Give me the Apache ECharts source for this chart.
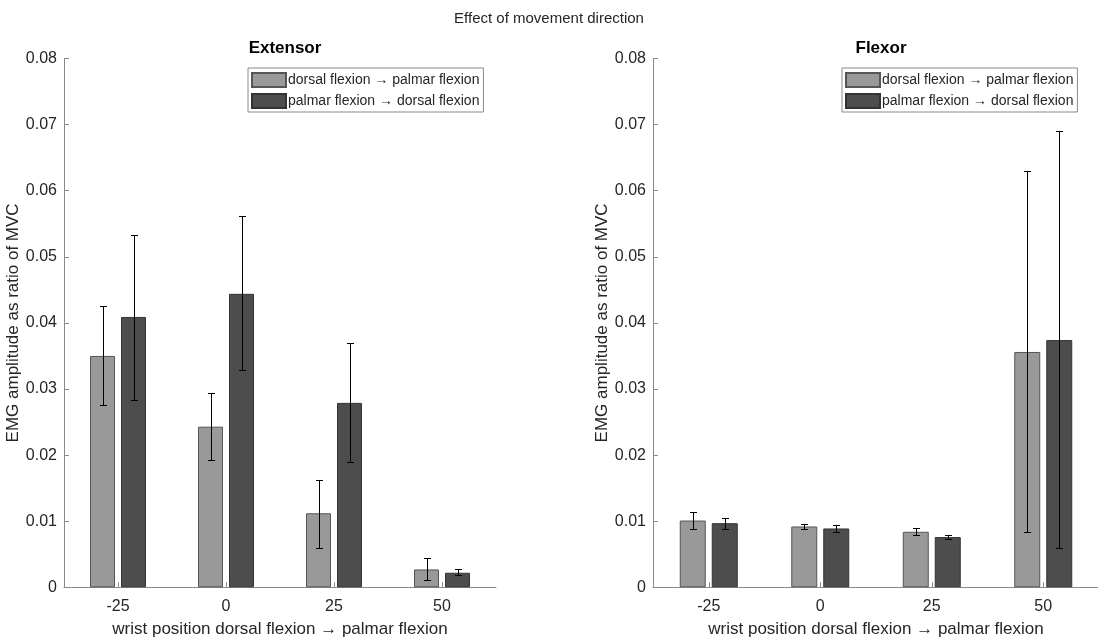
<!DOCTYPE html>
<html>
<head>
<meta charset="utf-8">
<script src="https://cdn.jsdelivr.net/npm/echarts@6/dist/echarts.min.js"></script>
<style>
html,body{margin:0;padding:0;background:#fff;}
#chart{width:1098px;height:639px;}
</style>
</head>
<body>
<div id="chart"></div>
<script>
var categories = ['-25', '0', '25', '50'];
var seriesNames = ['dorsal flexion \u2192 palmar flexion', 'palmar flexion \u2192 dorsal flexion'];

// Extensor
var extDorsal   = [0.0350, 0.0243, 0.0112, 0.0027];
var extDorsalLo = [0.0276, 0.0192, 0.0060, 0.0011];
var extDorsalHi = [0.0425, 0.0294, 0.0163, 0.0044];
var extPalmar   = [0.0409, 0.0444, 0.0279, 0.0022];
var extPalmarLo = [0.0284, 0.0328, 0.0190, 0.0018];
var extPalmarHi = [0.0533, 0.0561, 0.0369, 0.0027];

// Flexor
var flxDorsal   = [0.0101, 0.0092, 0.0084, 0.0356];
var flxDorsalLo = [0.0088, 0.0088, 0.0079, 0.0084];
var flxDorsalHi = [0.0114, 0.0096, 0.0089, 0.0630];
var flxPalmar   = [0.0097, 0.0089, 0.0076, 0.0374];
var flxPalmarLo = [0.0088, 0.0083, 0.0073, 0.0059];
var flxPalmarHi = [0.0105, 0.0095, 0.0079, 0.0690];

var FONT = '"Liberation Sans", Arial, Helvetica, sans-serif';
var TXT = '#262626';
var AX = '#8a8a8a';
var GREY = '#999999';
var DARK = '#4d4d4d';

function errData(lo, hi) {
  return lo.map(function (v, i) { return [i, v, hi[i]]; });
}

function makeErr(offsetPx) {
  return function (params, api) {
    var c = api.value(0);
    var lo = api.coord([c, api.value(1)]);
    var hi = api.coord([c, api.value(2)]);
    var x = Math.round(lo[0] + offsetPx) + 0.5;
    var yl = Math.round(lo[1]) + 0.5, yh = Math.round(hi[1]) + 0.5;
    var st = { stroke: '#000', lineWidth: 1 };
    var cap = 3.5;
    return {
      type: 'group',
      children: [
        { type: 'line', shape: { x1: x, y1: yl, x2: x, y2: yh }, style: st },
        { type: 'line', shape: { x1: x - cap, y1: yh, x2: x + cap, y2: yh }, style: st },
        { type: 'line', shape: { x1: x - cap, y1: yl, x2: x + cap, y2: yl }, style: st }
      ]
    };
  };
}

function xAxis(gi) {
  return {
    type: 'category', gridIndex: gi, data: categories,
    axisLine: { lineStyle: { color: AX, width: 1 } },
    axisTick: { show: true, inside: true, alignWithLabel: true, length: 5, lineStyle: { color: AX } },
    axisLabel: { color: TXT, fontSize: 16, fontFamily: FONT, margin: 11 },
    name: 'wrist position dorsal flexion \u2192 palmar flexion',
    nameLocation: 'middle', nameGap: 34,
    nameTextStyle: { color: TXT, fontSize: 17, fontFamily: FONT }
  };
}
function yAxis(gi, gap) {
  return {
    type: 'value', gridIndex: gi, min: 0, max: 0.08, interval: 0.01,
    axisLine: { show: true, lineStyle: { color: AX, width: 1 } },
    axisTick: { show: true, inside: true, length: 5, lineStyle: { color: AX } },
    splitLine: { show: false },
    axisLabel: { color: TXT, fontSize: 16, fontFamily: FONT, margin: 7,
      formatter: function (v) { return v === 0 ? '0' : v.toFixed(2); } },
    name: 'EMG amplitude as ratio of MVC',
    nameLocation: 'middle', nameGap: gap,
    nameTextStyle: { color: TXT, fontSize: 17, fontFamily: FONT }
  };
}

function bar(name, data, gi, color, border, w) {
  return {
    type: 'bar', name: name, xAxisIndex: gi, yAxisIndex: gi, data: data,
    barWidth: w, barGap: (6 / w * 100) + '%',
    itemStyle: { color: color, borderColor: border, borderWidth: 1 },
    emphasis: { disabled: true }, animation: false
  };
}
function err(lo, hi, gi, off) {
  return {
    type: 'custom', xAxisIndex: gi, yAxisIndex: gi, data: errData(lo, hi),
    renderItem: makeErr(off), encode: { x: 0, y: [1, 2] }, z: 10, animation: false
  };
}

function legend(left) {
  return {
    data: seriesNames, orient: 'vertical', left: left, top: 68,
    itemWidth: 34, itemHeight: 14, itemGap: 5, icon: 'rect',
    padding: [4, 4, 3, 3], borderColor: '#8a8a8a', borderWidth: 1, backgroundColor: '#fff',
    selectedMode: false,
    textStyle: { color: TXT, fontSize: 14, fontFamily: FONT, padding: [0, 0, 0, -3] }
  };
}

var chart = echarts.init(document.getElementById('chart'), null, { renderer: 'canvas' });
chart.setOption({
  backgroundColor: '#fff',
  animation: false,
  title: [
    { text: 'Effect of movement direction', left: 'center', top: 6,
      textStyle: { color: TXT, fontSize: 15, fontWeight: 'normal', fontFamily: FONT } },
    { text: 'Extensor', left: 280, textAlign: 'center', top: 35,
      textStyle: { color: '#000', fontSize: 17, fontWeight: 'bold', fontFamily: FONT } },
    { text: 'Flexor', left: 876, textAlign: 'center', top: 35,
      textStyle: { color: '#000', fontSize: 17, fontWeight: 'bold', fontFamily: FONT } }
  ],
  legend: [legend(248), legend(842)],
  grid: [
    { left: 64, width: 432, top: 58.5, bottom: 51.7, containLabel: false, outerBoundsMode: 'none' },
    { left: 653, width: 446, top: 58.5, bottom: 51.7, containLabel: false, outerBoundsMode: 'none' }
  ],
  xAxis: [xAxis(0), xAxis(1)],
  yAxis: [yAxis(0, 37), yAxis(1, 42)],
  series: [
    bar(seriesNames[0], extDorsal, 0, GREY, '#555', 25),
    bar(seriesNames[1], extPalmar, 0, DARK, '#333', 25),
    err(extDorsalLo, extDorsalHi, 0, -15.5),
    err(extPalmarLo, extPalmarHi, 0, 15.5),
    bar(seriesNames[0], flxDorsal, 1, GREY, '#555', 26),
    bar(seriesNames[1], flxPalmar, 1, DARK, '#333', 26),
    err(flxDorsalLo, flxDorsalHi, 1, -16),
    err(flxPalmarLo, flxPalmarHi, 1, 16)
  ]
});
</script>
</body>
</html>
